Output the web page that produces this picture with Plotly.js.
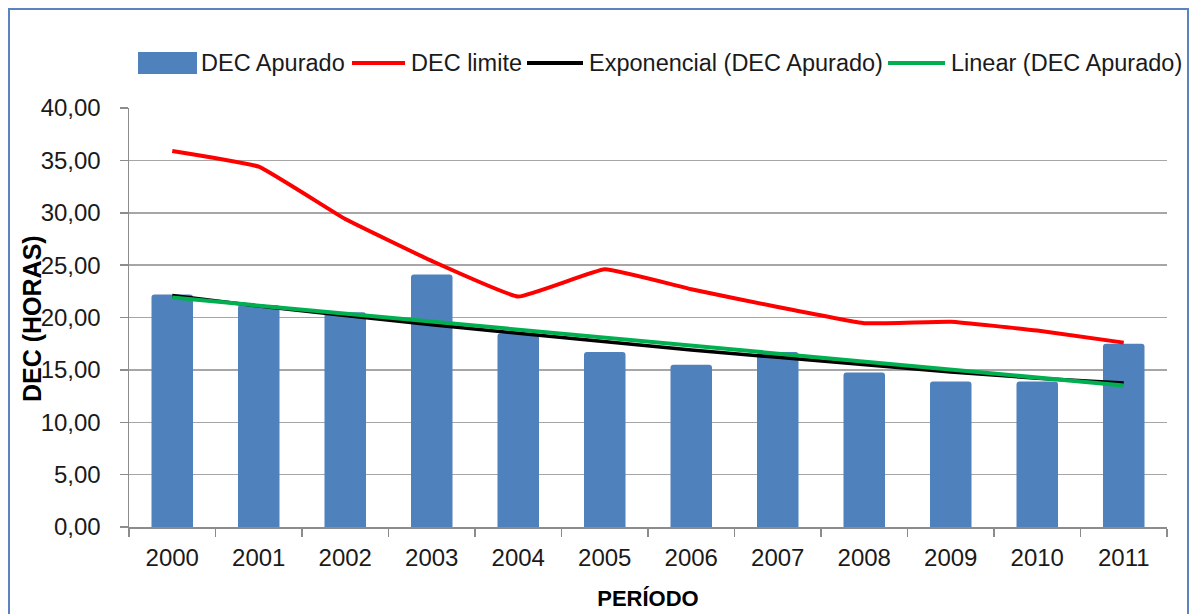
<!DOCTYPE html>
<html>
<head>
<meta charset="utf-8">
<script src="https://cdn.plot.ly/plotly-3.0.1.min.js"></script>
<style>
html,body{margin:0;padding:0;background:#fff;}
#chart{width:1191px;height:614px;}
</style>
</head>
<body>
<div id="chart"></div>
<script>
// ---- data ----
const years = ["2000","2001","2002","2003","2004","2005","2006","2007","2008","2009","2010","2011"];
const decApurado = [22.2, 21.2, 20.5, 24.1, 18.5, 16.7, 15.5, 16.7, 14.75, 13.9, 13.9, 17.5];
const decLimite  = [35.9, 34.4, 29.4, 25.4, 22.0, 24.6, 22.7, 21.0, 19.45, 19.6, 18.75, 17.6];
const expYears   = years;
const expTrend   = [22.1, 21.1, 20.2, 19.3, 18.5, 17.7, 16.9, 16.2, 15.5, 14.8, 14.2, 13.75];
const linYears   = ["2000", "2011"];
const linTrend   = [21.9, 13.5];
const yTicks     = [0, 5, 10, 15, 20, 25, 30, 35, 40];
const seriesNames = ["DEC Apurado", "DEC limite", "Exponencial (DEC Apurado)", "Linear (DEC Apurado)"];
const seriesColors = ["#4f81bd", "#ff0000", "#000000", "#00b050"];
const xTitle = "PERÍODO";
const yTitle = "DEC (HORAS)";

const font = "Liberation Sans, Arial, sans-serif";
const traces = [
  {type:"bar", name:seriesNames[0], x:years, y:decApurado,
   marker:{color:seriesColors[0], cornerradius:3, line:{width:0}}},
  {type:"scatter", mode:"lines", name:seriesNames[1], x:years, y:decLimite,
   line:{color:seriesColors[1], width:4, shape:"spline", smoothing:0.3}},
  {type:"scatter", mode:"lines", name:seriesNames[2], x:expYears, y:expTrend,
   line:{color:seriesColors[2], width:3.5}},
  {type:"scatter", mode:"lines", name:seriesNames[3], x:linYears, y:linTrend,
   line:{color:seriesColors[3], width:4}}
];

// ---- custom legend (pixel layout converted to paper coords) ----
const L = 129, PW = 1038, B = 527, PH = 419;
const px = v => (v - L) / PW;
const py = v => (B - v) / PH;
const legendY = 63;
const legendItems = [
  {kind:"rect", x0:138, x1:197, tx:199},
  {kind:"line", x0:352, x1:405, tx:409},
  {kind:"line", x0:527, x1:583, tx:587},
  {kind:"line", x0:888, x1:945, tx:949}
];
const shapes = [{type:"rect", xref:"paper", yref:"paper", layer:"below",
           x0:px(9), x1:px(1188), y0:py(640), y1:py(9),
           line:{color:"#5a83c0", width:2}, fillcolor:"rgba(0,0,0,0)"}];
const annotations = [];
legendItems.forEach((it, i) => {
  if (it.kind === "rect") {
    shapes.push({type:"rect", xref:"paper", yref:"paper", x0:px(it.x0), x1:px(it.x1),
      y0:py(legendY+11), y1:py(legendY-11), fillcolor:seriesColors[i], line:{width:0}});
  } else {
    shapes.push({type:"line", xref:"paper", yref:"paper", x0:px(it.x0), x1:px(it.x1),
      y0:py(legendY), y1:py(legendY), line:{color:seriesColors[i], width:4}});
  }
  annotations.push({xref:"paper", yref:"paper", x:px(it.tx), y:py(legendY), xanchor:"left", yanchor:"middle",
    text:seriesNames[i], showarrow:false, font:{family:font, size:23.5, color:"#1a1a1a"}});
});
// y axis title placed like the reference (overlapping the label column edge)
annotations.push({xref:"paper", yref:"paper", x:px(32), y:py(319), xanchor:"center", yanchor:"middle",
  text:"<b>" + yTitle + "</b>", textangle:-90, showarrow:false,
  font:{family:font, size:25, color:"#000"}});

const layout = {
  width:1191, height:614,
  margin:{l:L, r:1191-L-PW, t:B-PH, b:614-B},
  paper_bgcolor:"#ffffff", plot_bgcolor:"#ffffff",
  separators:",.",
  font:{family:font, size:24, color:"#1a1a1a"},
  bargap:0.52,
  showlegend:false,
  xaxis:{type:"category", categoryorder:"array", categoryarray:years,
         showline:true, linecolor:"#8c8c8c", linewidth:1.5,
         ticks:"outside", tickson:"boundaries", ticklen:8, tickcolor:"#8c8c8c", tickwidth:1.5,
         showgrid:false, ticklabelstandoff:9,
         tickfont:{family:font, size:24, color:"#1a1a1a"},
         title:{text:xTitle, font:{family:font, size:22, color:"#000", weight:"bold"}, standoff:20}},
  yaxis:{range:[0,40], tickvals:yTicks, tickformat:".2f",
         showline:true, linecolor:"#8c8c8c", linewidth:1.5,
         ticks:"outside", ticklen:8, tickcolor:"#8c8c8c", tickwidth:1.5,
         showgrid:true, gridcolor:"#a6a6a6", gridwidth:1.5, zeroline:false,
         ticklabelstandoff:14,
         tickfont:{family:font, size:24, color:"#1a1a1a"}},
  shapes:shapes,
  annotations:annotations
};

Plotly.newPlot("chart", traces, layout, {displayModeBar:false, staticPlot:true});
</script>
</body>
</html>
